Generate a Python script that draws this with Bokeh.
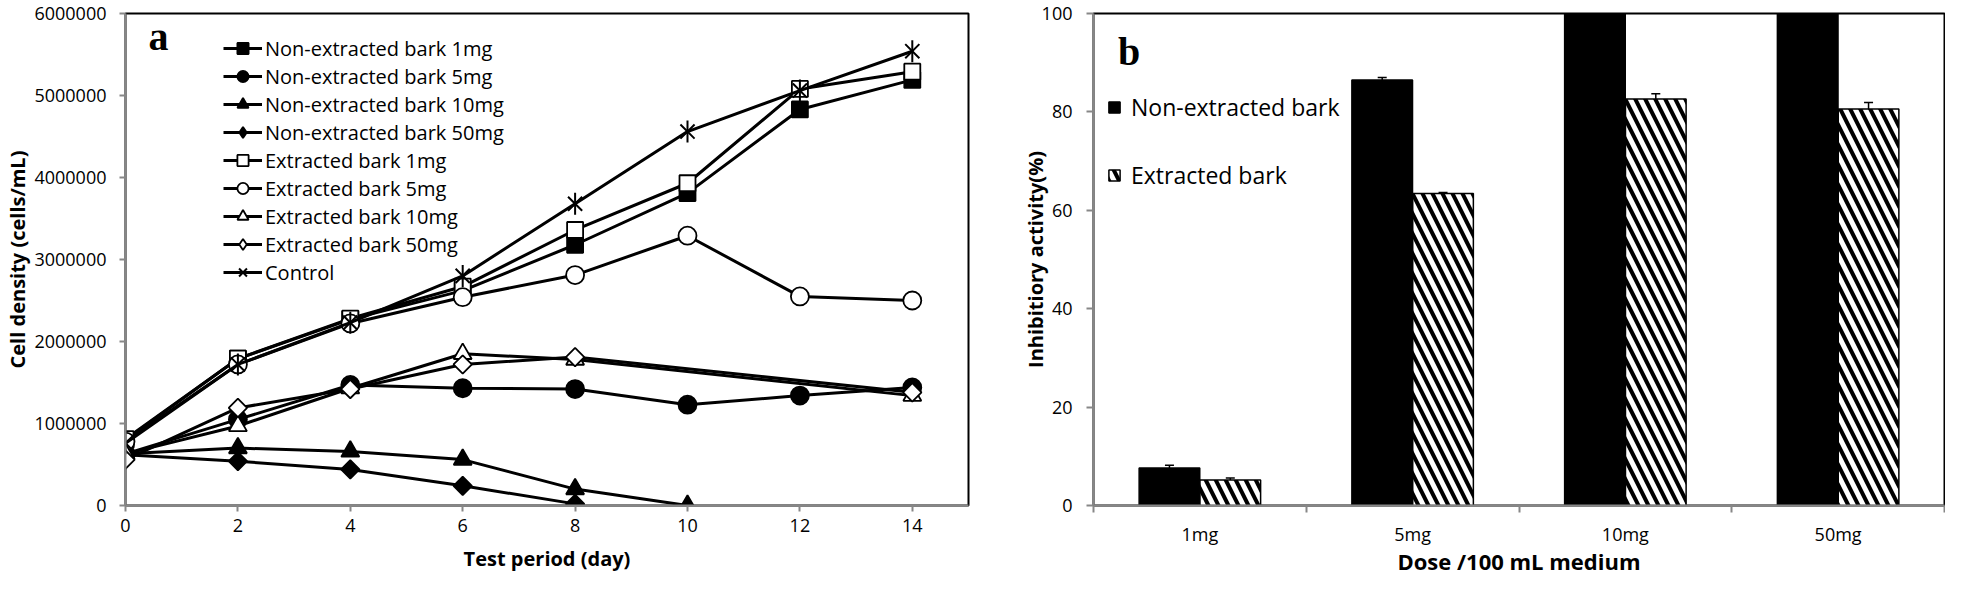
from bokeh.plotting import figure
from bokeh.models import (ColumnDataSource, FixedTicker, NumeralTickFormatter, Legend, LegendItem,
                          Label, Whisker, TeeHead, Range1d)
from bokeh.layouts import row
from bokeh.transform import dodge
from bokeh.embed import file_html
from bokeh.resources import INLINE

# ---------------- data: panel a ----------------
days_full = [0, 2, 4, 6, 8, 10, 12, 14]
days_ne10 = [0, 2, 4, 6, 8, 10]
days_ne50 = [0, 2, 4, 6, 8]
days_ext_hi = [0, 2, 4, 6, 8, 14]

non_ext_1mg = [800000, 1790000, 2270000, 2620000, 3180000, 3810000, 4830000, 5190000]
non_ext_5mg = [630000, 1050000, 1470000, 1430000, 1420000, 1230000, 1340000, 1440000]
non_ext_10mg = [630000, 700000, 660000, 560000, 200000, 0]
non_ext_50mg = [620000, 540000, 440000, 240000, 20000]
ext_1mg = [810000, 1790000, 2280000, 2670000, 3360000, 3930000, 5080000, 5290000]
ext_5mg = [780000, 1720000, 2220000, 2540000, 2810000, 3290000, 2550000, 2500000]
ext_10mg = [630000, 970000, 1430000, 1850000, 1780000, 1340000]
ext_50mg = [560000, 1190000, 1420000, 1720000, 1810000, 1380000]
control = [760000, 1720000, 2230000, 2800000, 3680000, 4560000, 5060000, 5540000]

x_ticks_a = [0, 2, 4, 6, 8, 10, 12, 14]
y_ticks_a = [0, 1000000, 2000000, 3000000, 4000000, 5000000, 6000000]

# ---------------- data: panel b ----------------
doses = ["1mg", "5mg", "10mg", "50mg"]
non_ext_inh = [7.6, 86.5, 100, 100]
non_ext_err = [0.6, 0.5, 0.0, 0.0]
ext_inh = [5.2, 63.4, 82.6, 80.6]
ext_err = [0.4, 0.2, 1.1, 1.3]
y_ticks_b = [0, 20, 40, 60, 80, 100]

FONT = "Open Sans"
AXIS_GRAY = "#878787"


def style_axis(ax, tick_out, tick_font, title_font):
    ax.axis_line_color = AXIS_GRAY
    ax.axis_line_width = 2
    ax.major_tick_line_color = AXIS_GRAY
    ax.major_tick_line_width = 2
    ax.major_tick_in = 0
    ax.major_tick_out = tick_out
    ax.minor_tick_line_color = None
    ax.major_label_text_font = FONT
    ax.major_label_text_font_size = tick_font
    ax.major_label_text_color = "black"
    ax.axis_label_text_font = FONT
    ax.axis_label_text_font_style = "bold"
    ax.axis_label_text_font_size = title_font
    ax.axis_label_text_color = "black"


# ================= Panel a =================
pa = figure(width=1000, height=579, output_backend="svg", toolbar_location=None,
            x_range=Range1d(0, 15), y_range=Range1d(0, 6000000),
            min_border_left=125, min_border_right=32, min_border_top=13, min_border_bottom=74)
pa.xgrid.visible = False
pa.ygrid.visible = False
pa.outline_line_color = "black"
pa.outline_line_width = 2
pa.background_fill_color = "white"
pa.border_fill_color = "white"

pa.xaxis.ticker = FixedTicker(ticks=x_ticks_a)
pa.yaxis.ticker = FixedTicker(ticks=y_ticks_a)
pa.yaxis.formatter = NumeralTickFormatter(format="0")
style_axis(pa.xaxis[0], 6, "18px", "20px")
style_axis(pa.yaxis[0], 6, "18px", "20px")
pa.xaxis.axis_label = "Test period (day)"
pa.yaxis.axis_label = "Cell density (cells/mL)"
pa.xaxis.major_label_standoff = 7
pa.xaxis.axis_label_standoff = 10
pa.yaxis.major_label_standoff = 13
pa.yaxis.axis_label_standoff = 0

series = [
    ("Non-extracted bark 1mg", days_full, non_ext_1mg, "square", "black"),
    ("Non-extracted bark 5mg", days_full, non_ext_5mg, "circle", "black"),
    ("Non-extracted bark 10mg", days_ne10, non_ext_10mg, "triangle", "black"),
    ("Non-extracted bark 50mg", days_ne50, non_ext_50mg, "diamond", "black"),
    ("Extracted bark 1mg", days_full, ext_1mg, "square", "white"),
    ("Extracted bark 5mg", days_full, ext_5mg, "circle", "white"),
    ("Extracted bark 10mg", days_ext_hi, ext_10mg, "triangle", "white"),
    ("Extracted bark 50mg", days_ext_hi, ext_50mg, "diamond", "white"),
]
marker_size = {"square": 16, "circle": 18, "triangle": 18}

items = []
for name, xs, ys, marker, fill in series:
    src = ColumnDataSource(dict(x=xs, y=ys))
    ln = pa.line("x", "y", source=src, line_color="black", line_width=3)
    if marker == "diamond":
        # plain diamond (used by the legend) covered by a rotated square on the plot
        lg = pa.scatter("x", "y", source=src, marker="diamond", size=15,
                        fill_color=fill, line_color="black", line_width=1.8)
        pa.scatter("x", "y", source=src, marker="square", size=13, angle=0.785398,
                   fill_color=fill, line_color="black", line_width=1.8)
        items.append(LegendItem(label=name, renderers=[ln, lg]))
    else:
        sc = pa.scatter("x", "y", source=src, marker=marker, size=marker_size[marker],
                        fill_color=fill, line_color="black", line_width=1.8)
        items.append(LegendItem(label=name, renderers=[ln, sc]))

csrc = ColumnDataSource(dict(x=days_full, y=control))
cl = pa.line("x", "y", source=csrc, line_color="black", line_width=3)
cx = pa.scatter("x", "y", source=csrc, marker="x", size=20, line_color="black", line_width=2)
cd = pa.scatter("x", "y", source=csrc, marker="dash", size=22, angle=1.570796,
                line_color="black", line_width=2)
items.append(LegendItem(label="Control", renderers=[cl, cx, cd]))

leg_a = Legend(items=items, location=(98, 219), orientation="vertical",
               glyph_width=39, glyph_height=28, label_height=28, spacing=0,
               padding=0, margin=0, label_standoff=3,
               label_text_font=FONT, label_text_font_size="20px", label_text_color="black",
               background_fill_alpha=0, border_line_alpha=0)
pa.add_layout(leg_a, "center")

pa.add_layout(Label(x=0.41, y=5720000, text="a", text_font="Liberation Serif",
                    text_font_style="bold", text_font_size="40px", text_color="black",
                    text_baseline="alphabetic"))

# ================= Panel b =================
xs_b = [i + 0.5 for i in range(len(doses))]
bsrc = ColumnDataSource(dict(
    x=xs_b, ne=non_ext_inh, e=ext_inh,
    ne_up=[v + d for v, d in zip(non_ext_inh, non_ext_err)],
    ne_lo=[v - d for v, d in zip(non_ext_inh, non_ext_err)],
    e_up=[v + d for v, d in zip(ext_inh, ext_err)],
    e_lo=[v - d for v, d in zip(ext_inh, ext_err)],
))

pb = figure(width=945, height=579, output_backend="svg", toolbar_location=None,
            x_range=Range1d(0, len(doses)), y_range=Range1d(0, 100),
            min_border_left=93, min_border_right=1, min_border_top=13, min_border_bottom=74)
pb.xgrid.visible = False
pb.ygrid.visible = False
pb.outline_line_color = "black"
pb.outline_line_width = 2
pb.background_fill_color = "white"
pb.border_fill_color = "white"

pb.xaxis.ticker = FixedTicker(ticks=xs_b, minor_ticks=list(range(len(doses) + 1)))
pb.xaxis.major_label_overrides = {x: d for x, d in zip(xs_b, doses)}
pb.yaxis.ticker = FixedTicker(ticks=y_ticks_b)
style_axis(pb.xaxis[0], 0, "18px", "22px")
style_axis(pb.yaxis[0], 7, "18px", "20px")
pb.xaxis.minor_tick_line_color = AXIS_GRAY
pb.xaxis.minor_tick_line_width = 2
pb.xaxis.minor_tick_in = 0
pb.xaxis.minor_tick_out = 7
pb.xaxis.axis_label = "Dose /100 mL medium"
pb.yaxis.axis_label = "Inhibitiory activity(%)"
pb.xaxis.major_label_standoff = 9
pb.xaxis.axis_label_standoff = -3
pb.yaxis.major_label_standoff = 14
pb.yaxis.axis_label_standoff = -10

bw = 0.285
r_ne = pb.vbar(x=dodge("x", -0.143), top="ne", width=bw, source=bsrc,
               fill_color="black", line_color="black", line_width=1.5)
r_e = pb.vbar(x=dodge("x", 0.143), top="e", width=bw, source=bsrc,
              fill_color="white", line_color="black", line_width=1.5,
              hatch_pattern="\\", hatch_color="black", hatch_scale=20, hatch_weight=4)

pb.add_layout(Whisker(source=bsrc, base=dodge("x", -0.143), upper="ne_up", lower="ne_lo",
                      line_color="black", line_width=1.5,
                      upper_head=TeeHead(size=9, line_width=1.5, line_color="black"),
                      lower_head=TeeHead(size=9, line_width=1.5, line_color="black")))
pb.add_layout(Whisker(source=bsrc, base=dodge("x", 0.143), upper="e_up", lower="e_lo",
                      line_color="black", line_width=1.5,
                      upper_head=TeeHead(size=9, line_width=1.5, line_color="black"),
                      lower_head=TeeHead(size=9, line_width=1.5, line_color="black")))

leg_b = Legend(items=[LegendItem(label="Non-extracted bark", renderers=[r_ne]),
                      LegendItem(label="Extracted bark", renderers=[r_e])],
               location=(14, 314), orientation="vertical",
               glyph_width=14, glyph_height=14, label_height=14, spacing=36,
               padding=0, margin=0, label_standoff=10,
               label_text_font=FONT, label_text_font_size="23px", label_text_color="black",
               background_fill_alpha=0, border_line_alpha=0)
pb.add_layout(leg_b, "center")

pb.add_layout(Label(x=0.115, y=92.2, text="b", text_font="Liberation Serif",
                    text_font_style="bold", text_font_size="40px", text_color="black",
                    text_baseline="alphabetic"))

layout = row(pa, pb)
open("out.html", "w").write(file_html(layout, INLINE))
